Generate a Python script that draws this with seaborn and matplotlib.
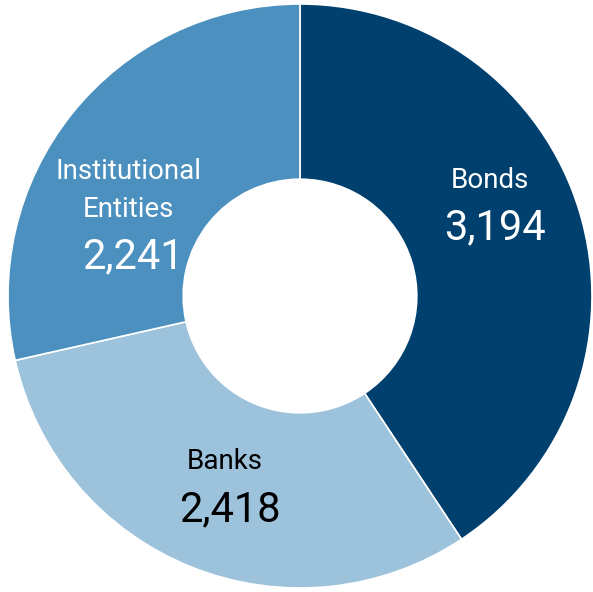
import matplotlib
matplotlib.use("Agg")
import matplotlib.pyplot as plt
import seaborn as sns

sns.set_style("white")
plt.rcParams['font.family'] = ['Roboto', 'DejaVu Sans']

categories = ["Bonds", "Banks", "Institutional\nEntities"]
values = [3194, 2418, 2241]
colors = ["#00406f", "#9dc3dc", "#4b90be"]
text_colors = ["white", "black", "white"]

# label anchor (name line, value line) in data units, radius = 1
name_pos = [(0.651, 0.397), (-0.257, -0.568), (-0.589, 0.362)]
value_pos = [(0.668, 0.233), (-0.240, -0.733), (-0.572, 0.134)]

fig = plt.figure(figsize=(5.93, 5.92), dpi=100)
ax = fig.add_axes([0, 0, 1, 1])
ax.pie(values, colors=colors, startangle=90, counterclock=False,
       radius=1.0, wedgeprops=dict(width=0.6, edgecolor="white", linewidth=1.2))

for name, v, tc, npos, vpos in zip(categories, values, text_colors, name_pos, value_pos):
    ax.text(*npos, name, ha="center", va="center", color=tc, fontsize=20,
            linespacing=1.55)
    ax.text(*vpos, f"{v:,}", ha="center", va="center", color=tc, fontsize=30)

ax.set_xlim(-300 / 292, 293 / 292)
ax.set_ylim(-296 / 292, 296 / 292)
ax.set_aspect("auto")
ax.axis("off")
fig.savefig("out.png", dpi=100, facecolor="white")
